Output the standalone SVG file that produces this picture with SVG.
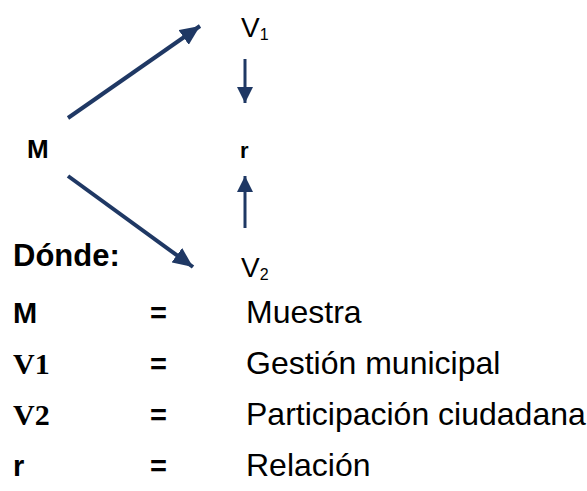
<svg xmlns="http://www.w3.org/2000/svg" width="587" height="491" viewBox="0 0 587 491">
<defs>
<marker id="headL" markerUnits="userSpaceOnUse" markerWidth="20" markerHeight="18" refX="20" refY="9" orient="auto"><path d="M0,0 L20,9 L0,18 z" fill="#1F3864"/></marker>
<marker id="headS" markerUnits="userSpaceOnUse" markerWidth="16" markerHeight="16" refX="16" refY="8" orient="auto"><path d="M0,0 L16,8 L0,16 z" fill="#1F3864"/></marker>
</defs>
<style>
.sans{font-family:"Liberation Sans",Arial,sans-serif;fill:#000}
.b{font-weight:bold}
.serifb{font-family:"Liberation Serif","Times New Roman",serif;font-weight:bold;fill:#000}
.conn{stroke:#1F3864;fill:none}
</style>
<rect width="587" height="491" fill="#fff"/>
<g id="connectors">
<line class="conn" x1="68" y1="118" x2="200" y2="26" stroke-width="4" marker-end="url(#headL)"/>
<line class="conn" x1="68" y1="176" x2="193" y2="267" stroke-width="4" marker-end="url(#headL)"/>
<line class="conn" x1="245" y1="59" x2="245" y2="103" stroke-width="3" marker-end="url(#headS)"/>
<line class="conn" x1="245" y1="228" x2="245" y2="176" stroke-width="3" marker-end="url(#headS)"/>
</g>
<g id="node-M"><text class="sans b" x="27" y="158" font-size="26">M</text></g>
<g id="node-V1"><text class="sans" x="241" y="37" font-size="28">V<tspan font-size="16" dy="3">1</tspan></text></g>
<g id="node-r"><text class="sans b" x="240" y="158" font-size="22">r</text></g>
<g id="node-V2"><text class="sans" x="241" y="277" font-size="28">V<tspan font-size="16" dy="3">2</tspan></text></g>
<g id="legend">
<text class="sans b" x="13" y="266" font-size="31">Dónde:</text>
<text class="sans b" x="13" y="323" font-size="29">M</text>
<text class="serifb" x="13" y="374" font-size="30">V1</text>
<text class="serifb" x="13" y="425" font-size="30">V2</text>
<text class="sans b" x="13" y="476" font-size="29">r</text>
<text class="sans b" x="150" y="323" font-size="29">=</text>
<text class="sans b" x="150" y="374" font-size="29">=</text>
<text class="sans b" x="150" y="425" font-size="29">=</text>
<text class="sans b" x="150" y="476" font-size="29">=</text>
<text class="sans" x="246" y="323" font-size="32">Muestra</text>
<text class="sans" x="246" y="374" font-size="32">Gestión municipal</text>
<text class="sans" x="246" y="425" font-size="32">Participación ciudadana</text>
<text class="sans" x="246" y="476" font-size="32">Relación</text>
</g>
</svg>
